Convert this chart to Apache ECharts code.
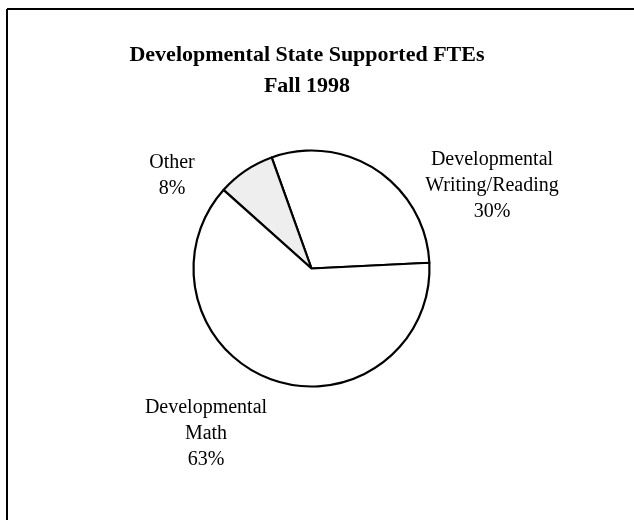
<!DOCTYPE html>
<html>
<head>
    <meta charset="utf-8">
    <title>Developmental State Supported FTEs - Fall 1998</title>
    <script src="https://cdn.jsdelivr.net/npm/echarts@6/dist/echarts.min.js"></script>
    <style>
        html, body { margin: 0; padding: 0; background: #fff; }
        #main { width: 634px; height: 520px; }
    </style>
</head>
<body>
<div id="main"></div>
<script>
    // data
    var categories = ['Developmental\nWriting/Reading', 'Other', 'Developmental\nMath'];
    var shares = [30, 8, 63];
    var sliceColors = ['#ffffff', '#eeeeee', '#ffffff'];

    // label block centres (px)
    var labelPos = [[492, 186], [172, 176], [206, 434]];

    var chart = echarts.init(document.getElementById('main'));

    var option = {
        backgroundColor: '#fff',
        animation: false,
        title: {
            text: 'Developmental State Supported FTEs\nFall 1998',
            left: 302,
            top: 35,
            textAlign: 'center',
            textStyle: {
                fontFamily: 'Liberation Serif',
                fontWeight: 'bold',
                fontSize: 22,
                lineHeight: 31,
                color: '#000'
            }
        },
        graphic: [
            { type: 'line', shape: { x1: 7, y1: 9, x2: 634, y2: 9 }, style: { stroke: '#000', lineWidth: 2 } },
            { type: 'line', shape: { x1: 7, y1: 9, x2: 7, y2: 520 }, style: { stroke: '#000', lineWidth: 2 } }
        ],
        series: [{
            type: 'pie',
            center: [311.5, 268.5],
            radius: 118,
            startAngle: 2.8,
            clockwise: false,
            silent: true,
            data: categories.map(function (name, i) {
                return { name: name, value: shares[i], itemStyle: { color: sliceColors[i] } };
            }),
            itemStyle: { borderColor: '#000', borderWidth: 2.2 },
            label: {
                show: true,
                position: 'outside',
                formatter: '{b}\n{c}%',
                fontFamily: 'Liberation Serif',
                fontSize: 20,
                lineHeight: 26,
                color: '#000',
                align: 'center'
            },
            labelLine: { show: false },
            labelLayout: function (params) {
                var p = labelPos[params.dataIndex];
                return { x: p[0], y: p[1], align: 'center', verticalAlign: 'middle' };
            }
        }]
    };

    chart.setOption(option);
</script>
</body>
</html>
